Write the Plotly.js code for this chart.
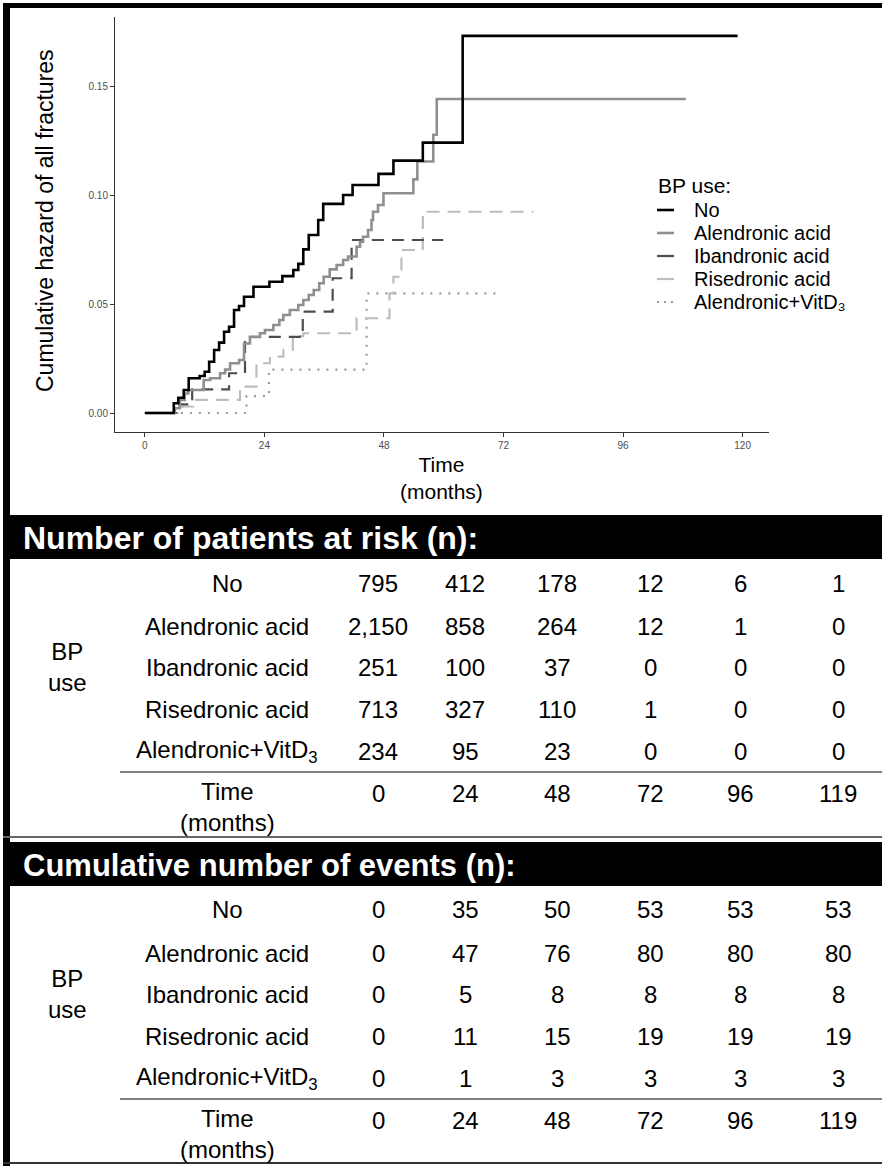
<!DOCTYPE html>
<html><head><meta charset="utf-8">
<script src="https://cdn.plot.ly/plotly-3.0.1.min.js"></script>
<style>html,body{margin:0;padding:0;background:#fff}#chart{width:882px;height:1166px}</style>
</head><body><div id="chart"></div>
<script>
// ---- curve data (months, cumulative hazard) ----
const noT  = [0, 5.8, 6.7, 7.8, 8.8, 11.0, 12.0, 12.9, 13.9, 14.9, 15.9, 16.9, 17.9, 18.9, 19.9, 21.8, 25.0, 27.6, 29.8, 30.8, 31.8, 32.9, 34.8, 35.8, 39.8, 41.7, 46.9, 49.9, 55.8, 63.8, 119];
const noV  = [0, 0.0045, 0.0070, 0.0106, 0.016, 0.017, 0.019, 0.0236, 0.029, 0.0324, 0.0374, 0.0397, 0.0474, 0.0492, 0.0535, 0.0581, 0.0604, 0.063, 0.0658, 0.0686, 0.0753, 0.0819, 0.0888, 0.0962, 0.1003, 0.1049, 0.110, 0.1161, 0.1244, 0.1735, 0.1735];
const alT  = [0, 6.0, 7.0, 8.0, 8.7, 11.8, 13.1, 15.1, 16.1, 17.1, 18.9, 19.9, 21.1, 23.1, 24.1, 25.8, 27.0, 27.8, 29.1, 30.8, 31.8, 32.9, 33.9, 35.0, 35.9, 37.1, 38.5, 39.8, 40.8, 42.5, 43.2, 43.8, 44.8, 45.5, 45.8, 46.8, 47.9, 53.9, 54.7, 57.9, 58.6, 108.6];
const alV  = [0, 0.0022, 0.006, 0.009, 0.0106, 0.0152, 0.016, 0.0183, 0.020, 0.0229, 0.0244, 0.032, 0.035, 0.0367, 0.0382, 0.0405, 0.0428, 0.0451, 0.0474, 0.0497, 0.052, 0.0543, 0.0566, 0.0597, 0.0627, 0.0661, 0.0681, 0.0704, 0.072, 0.0765, 0.0788, 0.0811, 0.0842, 0.0888, 0.0926, 0.0957, 0.1011, 0.1075, 0.1157, 0.128, 0.1445, 0.1445];
const ibT  = [0, 7.0, 9.5, 16.9, 20.1, 31.7, 37.7, 41.5, 59.9];
const ibV  = [0, 0.004, 0.0109, 0.0183, 0.035, 0.0466, 0.062, 0.0796, 0.0796];
const riT  = [0, 7.5, 9.7, 19.1, 22.4, 25.1, 27.8, 29.7, 31.8, 42.5, 49.1, 49.9, 51.5, 55.8, 78.0];
const riV  = [0, 0.003, 0.006, 0.0121, 0.0229, 0.0259, 0.029, 0.0354, 0.0367, 0.0436, 0.055, 0.0627, 0.075, 0.0926, 0.0926];
const vdT  = [0, 20.4, 24.9, 44.5, 70.6];
const vdV  = [0, 0.0078, 0.020, 0.055, 0.055];

const legendTitle = "BP use:";
const legendNames = ["No", "Alendronic acid", "Ibandronic acid", "Risedronic acid", "Alendronic+VitD\u2083"];
const xTicks = [0, 24, 48, 72, 96, 120];
const yTicks = [0, 0.05, 0.10, 0.15];

// ---- table data ----
const tableGroups = ["No", "Alendronic acid", "Ibandronic acid", "Risedronic acid", "Alendronic+VitD<sub>3</sub>"];
const tableTimes = [0, 24, 48, 72, 96, 119];
const riskNo   = [795, 412, 178, 12, 6, 1];
const riskAlen = [2150, 858, 264, 12, 1, 0];
const riskIban = [251, 100, 37, 0, 0, 0];
const riskRise = [713, 327, 110, 1, 0, 0];
const riskVitD = [234, 95, 23, 0, 0, 0];
const evNo   = [0, 35, 50, 53, 53, 53];
const evAlen = [0, 47, 76, 80, 80, 80];
const evIban = [0, 5, 8, 8, 8, 8];
const evRise = [0, 11, 15, 19, 19, 19];
const evVitD = [0, 1, 3, 3, 3, 3];
const table1Title = "Number of patients at risk (n):";
const table2Title = "Cumulative number of events (n):";

// ---- styles ----
const W = 882, H = 1166;
const fx = x => x / W, fy = y => 1 - y / H;
const styles = [
  {color: "#000000", width: 2.6, dash: "solid"},
  {color: "#8f8f8f", width: 2.6, dash: "solid"},
  {color: "#4d4d4d", width: 2.2, dash: "12px,8px"},
  {color: "#bdbdbd", width: 2.2, dash: "13px,8px"},
  {color: "#9a9a9a", width: 2.2, dash: "2px,7px"}
];
const series = [[noT, noV], [alT, alV], [ibT, ibV], [riT, riV], [vdT, vdV]];
const traces = series.map((s, i) => ({
  x: s[0], y: s[1], type: "scatter", mode: "lines", name: legendNames[i],
  line: {shape: "hv", color: styles[i].color, width: styles[i].width, dash: styles[i].dash},
  showlegend: false, hoverinfo: "skip"
}));
const ordered = [traces[4], traces[3], traces[2], traces[1], traces[0]];

const TF = "Arial, 'Liberation Sans', sans-serif";
const AF = "Arial, 'Liberation Sans', sans-serif";
const ann = [], shp = [];

// axis titles
ann.push({xref: "paper", yref: "paper", x: fx(45), y: fy(221), text: "Cumulative hazard of all fractures",
  textangle: -90, showarrow: false, font: {family: AF, size: 23, color: "#000"}, xanchor: "center", yanchor: "middle"});
ann.push({xref: "paper", yref: "paper", x: fx(442), y: fy(478), text: "Time<br>(months)",
  showarrow: false, font: {family: AF, size: 21, color: "#000"}, xanchor: "center", yanchor: "middle"});

// legend (manual)
ann.push({xref: "paper", yref: "paper", x: fx(656), y: fy(185), text: legendTitle, showarrow: false, height: 20,
  font: {family: AF, size: 21, color: "#000"}, xanchor: "left", yanchor: "middle"});
const legY = [210, 233, 256, 279, 302];
legendNames.forEach((n, i) => {
  shp.push({type: "line", xref: "paper", yref: "paper", x0: fx(657), x1: fx(674), y0: fy(legY[i]), y1: fy(legY[i]),
    line: {color: styles[i].color, width: styles[i].width, dash: i === 4 ? "2px,5px" : "solid"}});
  ann.push({xref: "paper", yref: "paper", x: fx(692), y: fy(legY[i]), text: n, showarrow: false, height: 20,
    font: {family: AF, size: 20, color: "#000"}, xanchor: "left", yanchor: "middle"});
});

// frame
shp.push({type: "rect", xref: "paper", yref: "paper", x0: fx(3), x1: fx(10), y0: fy(1166), y1: fy(3), fillcolor: "#000", line: {width: 0}});
shp.push({type: "rect", xref: "paper", yref: "paper", x0: fx(3), x1: fx(882), y0: fy(8), y1: fy(3), fillcolor: "#000", line: {width: 0}});

// tables
const colX = [378, 465, 557, 650, 740, 838];
const labelX = 227;
const fmt = v => v.toLocaleString("en-US");
function drawTable(top, title, titleSize, rows) {
  shp.push({type: "rect", xref: "paper", yref: "paper", x0: fx(3), x1: fx(882), y0: fy(top + 44), y1: fy(top), fillcolor: "#000", line: {width: 0}});
  ann.push({xref: "paper", yref: "paper", x: fx(21), y: fy(top + 23), text: "<b>" + title + "</b>", showarrow: false,
    font: {family: TF, size: titleSize, color: "#fff"}, xanchor: "left", yanchor: "middle"});
  const rowY = [68, 111, 152, 194, 236].map(d => top + d);
  rows.forEach((vals, r) => {
    ann.push({xref: "paper", yref: "paper", x: fx(labelX), y: fy(rowY[r]), text: tableGroups[r], showarrow: false,
      font: {family: TF, size: 24, color: "#000"}, xanchor: "center", yanchor: "middle"});
    vals.forEach((v, c) => {
      ann.push({xref: "paper", yref: "paper", x: fx(colX[c]), y: fy(rowY[r]), text: fmt(v), showarrow: false,
        font: {family: TF, size: 24, color: "#000"}, xanchor: "center", yanchor: "middle"});
    });
  });
  ann.push({xref: "paper", yref: "paper", x: fx(67), y: fy(top + 152), text: "BP<br>use", showarrow: false,
    font: {family: TF, size: 24, color: "#000"}, xanchor: "center", yanchor: "middle"});
  shp.push({type: "line", xref: "paper", yref: "paper", x0: fx(120), x1: fx(882), y0: fy(top + 257), y1: fy(top + 257),
    line: {color: "#808080", width: 2}});
  ann.push({xref: "paper", yref: "paper", x: fx(labelX), y: fy(top + 292), text: "Time<br>(months)", showarrow: false,
    font: {family: TF, size: 24, color: "#000"}, xanchor: "center", yanchor: "middle"});
  tableTimes.forEach((t, c) => {
    ann.push({xref: "paper", yref: "paper", x: fx(colX[c]), y: fy(top + 278), text: String(t), showarrow: false,
      font: {family: TF, size: 24, color: "#000"}, xanchor: "center", yanchor: "middle"});
  });
}
drawTable(515, table1Title, 32, [riskNo, riskAlen, riskIban, riskRise, riskVitD]);
shp.push({type: "line", xref: "paper", yref: "paper", x0: fx(3), x1: fx(882), y0: fy(837), y1: fy(837), line: {color: "#666", width: 2}});
drawTable(842, table2Title, 31, [evNo, evAlen, evIban, evRise, evVitD]);
shp.push({type: "line", xref: "paper", yref: "paper", x0: fx(3), x1: fx(882), y0: fy(1163), y1: fy(1163), line: {color: "#333", width: 2}});

const layout = {
  width: W, height: H,
  margin: {l: 0, r: 0, t: 0, b: 0},
  paper_bgcolor: "#fff", plot_bgcolor: "#fff",
  showlegend: false,
  xaxis: {domain: [fx(115), fx(769)], range: [-6.0, 125.3], tickvals: xTicks, ticks: "outside", ticklen: 4,
    tickcolor: "#333", showline: true, linecolor: "#333", linewidth: 1, showgrid: false, zeroline: false,
    tickfont: {family: AF, size: 10, color: "#4d4d4d"}},
  yaxis: {domain: [fy(432), fy(17)], range: [-0.00874, 0.1822], tickvals: yTicks, tickformat: ".2f", ticks: "outside", ticklen: 4,
    tickcolor: "#333", showline: true, linecolor: "#333", linewidth: 1, showgrid: false, zeroline: false,
    tickfont: {family: AF, size: 10, color: "#4d4d4d"}},
  annotations: ann, shapes: shp
};
Plotly.newPlot("chart", ordered, layout, {staticPlot: true, displayModeBar: false});
</script></body></html>
